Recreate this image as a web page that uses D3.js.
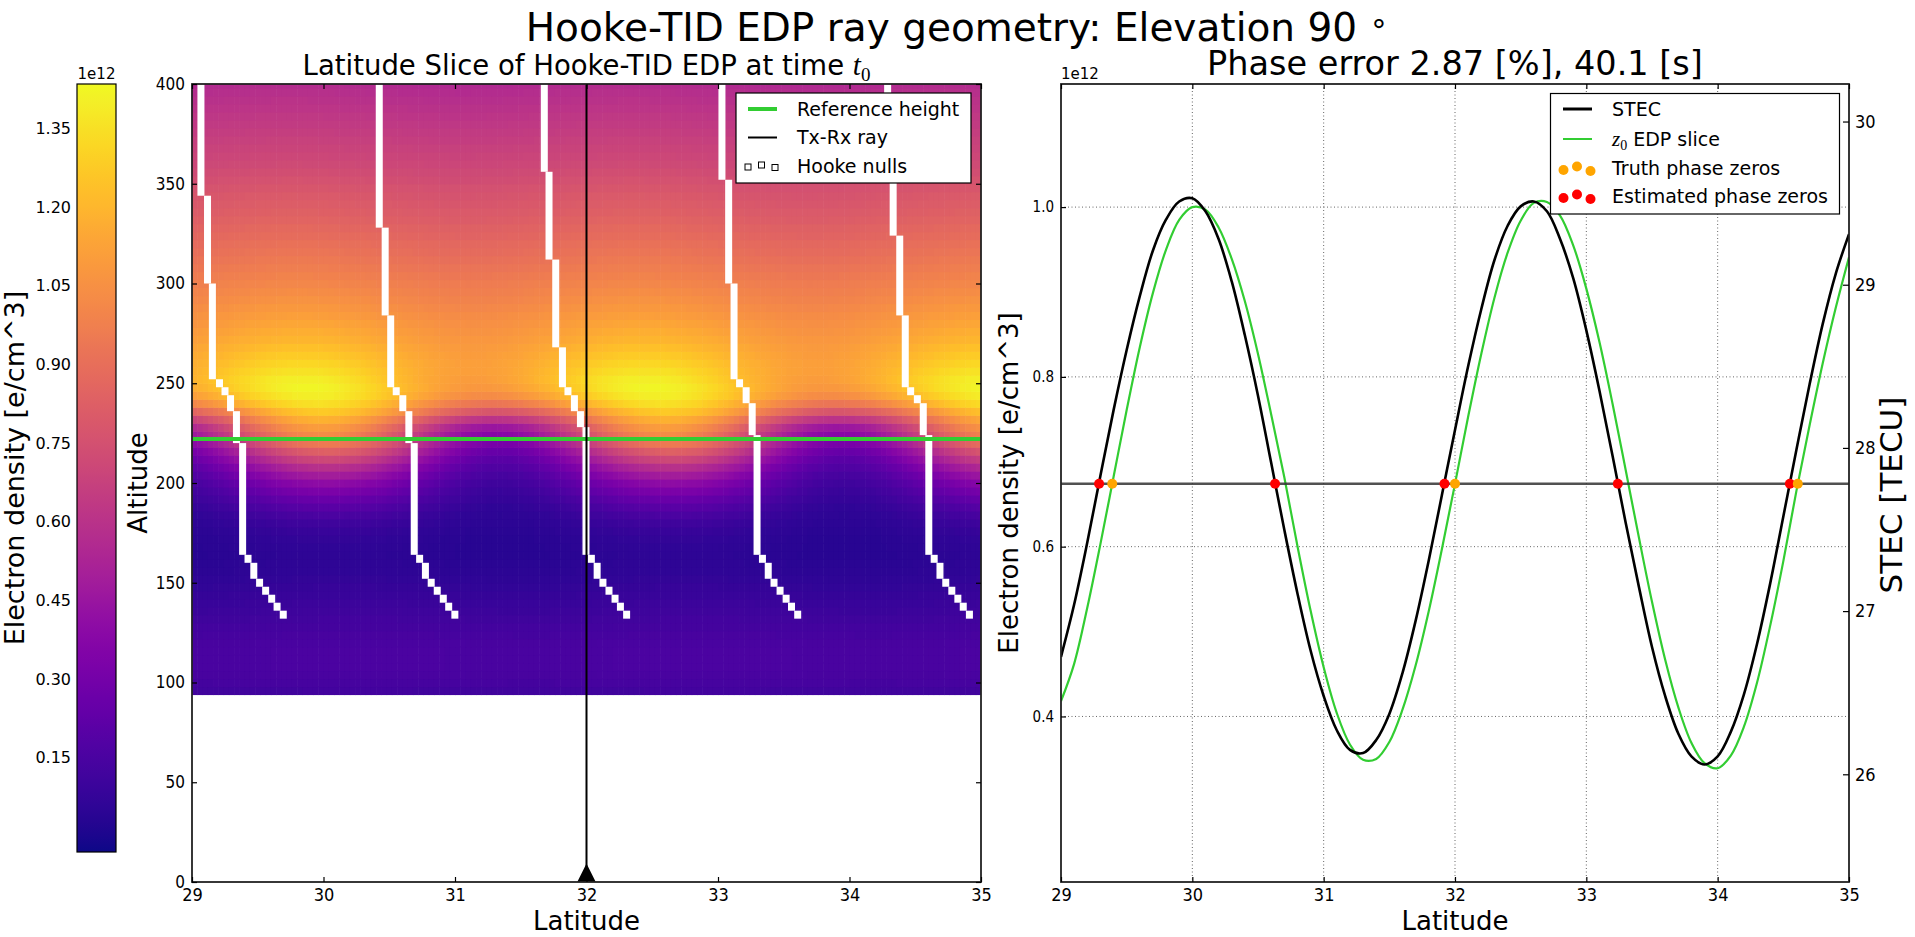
<!DOCTYPE html>
<html>
<head>
<meta charset="utf-8">
<title>Hooke-TID EDP ray geometry</title>
<script src="https://cdn.jsdelivr.net/npm/d3@7"></script>
<style>
  body { margin: 0; background: #fff; }
  svg text { font-family: "DejaVu Sans", sans-serif; fill: #000; }
  .tick text { font-family: "DejaVu Sans Condensed", "DejaVu Sans", sans-serif; font-stretch: condensed; }
  .math { font-family: "Liberation Serif", "DejaVu Serif", serif; font-style: italic; }
</style>
</head>
<body>
<svg id="figure" width="1915" height="937"></svg>
<script>
// ---------------- data ----------------
const latTicks = [29, 30, 31, 32, 33, 34, 35];
const altTicks = [0, 50, 100, 150, 200, 250, 300, 350, 400];
const cbTicks = [0.15, 0.30, 0.45, 0.60, 0.75, 0.90, 1.05, 1.20, 1.35];
const neTicks = [0.4, 0.6, 0.8, 1.0];
const tecTicks = [26, 27, 28, 29, 30];
const gridLat = [30, 31, 32, 33, 34];

const cbRange = [-0.03, 1.435];   // 1e12 e/cm^3
const neRange = [0.205, 1.145];   // 1e12 e/cm^3
const tecRange = [25.34, 30.23];  // TECU

const refHeightKm = 222;
const rayLat = 32.0;
const tidWavelengthDeg = 2.611;

// EDP slice, 4 km grid: crest / trough density (1e12) and crest latitude
const edpAltKm = [96, 100, 104, 108, 112, 116, 120, 124, 128, 132,
  136, 140, 144, 148, 152, 156, 160, 164, 168, 172,
  176, 180, 184, 188, 192, 196, 200, 204, 208, 212,
  216, 220, 224, 228, 232, 236, 240, 244, 248, 252,
  256, 260, 264, 268, 272, 276, 280, 284, 288, 292,
  296, 300, 304, 308, 312, 316, 320, 324, 328, 332,
  336, 340, 344, 348, 352, 356, 360, 364, 368, 372,
  376, 380, 384, 388, 392, 396, 400];
const edpCrest = [0.12, 0.135, 0.145, 0.15, 0.15, 0.15, 0.145, 0.14, 0.13, 0.12,
  0.11, 0.10, 0.09, 0.08, 0.07, 0.06, 0.055, 0.055, 0.06, 0.07,
  0.085, 0.11, 0.15, 0.20, 0.26, 0.33, 0.40, 0.49, 0.59, 0.71,
  0.83, 0.95, 1.03, 1.10, 1.18, 1.27, 1.35, 1.40, 1.42, 1.40,
  1.36, 1.32, 1.28, 1.24, 1.20, 1.17, 1.14, 1.11, 1.085, 1.06,
  1.035, 1.01, 0.99, 0.97, 0.95, 0.93, 0.91, 0.89, 0.87, 0.85,
  0.83, 0.815, 0.80, 0.78, 0.76, 0.74, 0.72, 0.705, 0.69, 0.675,
  0.66, 0.645, 0.63, 0.615, 0.60, 0.585, 0.57];
const edpTrough = [0.115, 0.13, 0.14, 0.145, 0.145, 0.145, 0.14, 0.13, 0.12, 0.11,
  0.095, 0.085, 0.075, 0.065, 0.055, 0.045, 0.04, 0.035, 0.035, 0.035,
  0.04, 0.045, 0.05, 0.06, 0.075, 0.09, 0.11, 0.135, 0.165, 0.20,
  0.25, 0.31, 0.37, 0.45, 0.60, 0.78, 0.93, 1.03, 1.08, 1.10,
  1.11, 1.11, 1.10, 1.09, 1.075, 1.06, 1.045, 1.03, 1.01, 0.99,
  0.975, 0.96, 0.94, 0.92, 0.90, 0.88, 0.865, 0.845, 0.83, 0.81,
  0.795, 0.78, 0.765, 0.75, 0.73, 0.715, 0.70, 0.685, 0.67, 0.655,
  0.64, 0.625, 0.61, 0.595, 0.58, 0.565, 0.55];
const edpCrestLat = [30.27, 30.27, 30.27, 30.27, 30.27, 30.27, 30.27, 30.27, 30.27, 30.25,
  30.22, 30.20, 30.17, 30.15, 30.12, 30.10, 30.08, 30.06, 30.04, 30.04,
  30.04, 30.04, 30.04, 30.04, 30.04, 30.04, 30.04, 30.04, 30.04, 30.04,
  30.04, 30.03, 29.99, 29.99, 29.99, 29.99, 29.95, 29.92, 29.88, 29.835,
  29.835, 29.835, 29.835, 29.835, 29.835, 29.835, 29.835, 29.81, 29.81, 29.81,
  29.81, 29.79, 29.79, 29.79, 29.79, 29.79, 29.79, 29.79, 29.77, 29.77,
  29.77, 29.77, 29.75, 29.75, 29.75, 29.75, 29.75, 29.75, 29.75, 29.75,
  29.75, 29.75, 29.75, 29.75, 29.75, 29.75, 29.75];

// Hooke nulls: [latitude, lowest km, highest km] runs, one list per chain
const nullsChain1 = [[29.068, 344, 400], [29.118, 300, 344], [29.155, 252, 300], [29.209, 248, 252],
  [29.251, 244, 248], [29.293, 236, 244], [29.338, 220, 236], [29.385, 164, 220], [29.426, 160, 164],
  [29.470, 152, 160], [29.514, 148, 152], [29.560, 144, 148], [29.606, 140, 144], [29.647, 136, 140],
  [29.694, 132, 136]];
const nullsChain2 = [[30.424, 328, 400], [30.469, 284, 328], [30.511, 248, 284], [30.553, 244, 248],
  [30.603, 236, 244], [30.649, 220, 236], [30.690, 164, 220], [30.731, 160, 164], [30.775, 152, 160],
  [30.819, 148, 152], [30.865, 144, 148], [30.911, 140, 144], [30.952, 136, 140], [30.999, 132, 136]];
const nullsChain3 = [[31.679, 356, 400], [31.715, 312, 356], [31.766, 268, 312], [31.817, 248, 268],
  [31.859, 244, 248], [31.908, 236, 244], [31.954, 228, 236], [31.996, 164, 228], [32.037, 160, 164],
  [32.081, 152, 160], [32.125, 148, 152], [32.171, 144, 148], [32.217, 140, 144], [32.258, 136, 140],
  [32.305, 132, 136]];
const nullsChain4 = [[33.030, 352, 400], [33.081, 300, 352], [33.122, 252, 300], [33.164, 248, 252],
  [33.214, 240, 248], [33.260, 224, 240], [33.297, 164, 224], [33.338, 160, 164], [33.382, 152, 160],
  [33.426, 148, 152], [33.472, 144, 148], [33.518, 140, 144], [33.559, 136, 140], [33.606, 132, 136]];
const nullsChain5 = [[34.290, 360, 400], [34.332, 324, 360], [34.382, 284, 324], [34.424, 248, 284],
  [34.465, 244, 248], [34.516, 240, 244], [34.561, 224, 240], [34.603, 164, 224], [34.644, 160, 164],
  [34.688, 152, 160], [34.732, 148, 152], [34.778, 144, 148], [34.824, 140, 144], [34.865, 136, 140],
  [34.912, 132, 136]];

// right panel curves
const curveLat = [29.0, 29.1, 29.2, 29.3, 29.4, 29.5, 29.6, 29.7, 29.8, 29.9,
  30.0, 30.1, 30.2, 30.3, 30.4, 30.5, 30.6, 30.7, 30.8, 30.9,
  31.0, 31.1, 31.2, 31.3, 31.4, 31.5, 31.6, 31.7, 31.8, 31.9,
  32.0, 32.1, 32.2, 32.3, 32.4, 32.5, 32.6, 32.7, 32.8, 32.9,
  33.0, 33.1, 33.2, 33.3, 33.4, 33.5, 33.6, 33.7, 33.8, 33.9,
  34.0, 34.1, 34.2, 34.3, 34.4, 34.5, 34.6, 34.7, 34.8, 34.9, 35.0];
const stecTecu = [26.72, 27.04, 27.42, 27.83, 28.23, 28.60, 28.93, 29.21, 29.40, 29.51,
  29.53, 29.45, 29.28, 29.02, 28.69, 28.32, 27.91, 27.50, 27.11, 26.76,
  26.48, 26.27, 26.15, 26.13, 26.21, 26.37, 26.62, 26.94, 27.31, 27.71,
  28.11, 28.50, 28.85, 29.15, 29.36, 29.48, 29.51, 29.45, 29.28, 29.04,
  28.72, 28.35, 27.95, 27.54, 27.15, 26.78, 26.48, 26.25, 26.11, 26.06,
  26.11, 26.26, 26.49, 26.80, 27.17, 27.58, 27.99, 28.39, 28.76, 29.07, 29.31];
const edpSlice = [0.418, 0.462, 0.528, 0.603, 0.682, 0.761, 0.835, 0.899, 0.950, 0.985,
  1.000, 0.997, 0.976, 0.939, 0.889, 0.827, 0.756, 0.682, 0.601, 0.525,
  0.458, 0.404, 0.367, 0.349, 0.350, 0.370, 0.408, 0.460, 0.524, 0.597,
  0.674, 0.753, 0.827, 0.893, 0.946, 0.984, 1.005, 1.006, 0.990, 0.955,
  0.904, 0.841, 0.768, 0.690, 0.611, 0.535, 0.467, 0.411, 0.369, 0.345,
  0.339, 0.354, 0.388, 0.440, 0.507, 0.583, 0.666, 0.743, 0.816, 0.882, 0.941];
const stecMean = 27.78;
const truthZeroLat = [29.39, 32.00, 34.61];
const estZeroLat = [29.29, 30.63, 31.92, 33.24, 34.55];
const phaseErrPct = 2.87;
const phaseErrSec = 40.1;

// ---------------- layout ----------------
const svg = d3.select("#figure");
const L = { x0: 192, x1: 981, y0: 84, y1: 882 };
const R = { x0: 1061, x1: 1849, y0: 84, y1: 882 };
const CB = { x0: 77, x1: 116, y0: 84, y1: 852 };

const xL = d3.scaleLinear().domain([29, 35]).range([L.x0, L.x1]);
const yL = d3.scaleLinear().domain([0, 400]).range([L.y1, L.y0]);
const yCb = d3.scaleLinear().domain(cbRange).range([CB.y1, CB.y0]);
const color = d3.scaleSequential(d3.interpolatePlasma).domain(cbRange);
const xR = d3.scaleLinear().domain([29, 35]).range([R.x0, R.x1]);
const yNe = d3.scaleLinear().domain(neRange).range([R.y1, R.y0]);
const yTec = d3.scaleLinear().domain(tecRange).range([R.y1, R.y0]);

const defs = svg.append("defs");
defs.append("clipPath").attr("id", "clipL").append("rect")
  .attr("x", L.x0).attr("y", L.y0).attr("width", L.x1 - L.x0).attr("height", L.y1 - L.y0);
defs.append("clipPath").attr("id", "clipR").append("rect")
  .attr("x", R.x0).attr("y", R.y0).attr("width", R.x1 - R.x0).attr("height", R.y1 - R.y0);

function styleAxis(g, size) {
  g.select(".domain").remove();
  g.selectAll(".tick line").attr("stroke", "#000").attr("stroke-width", 1.2);
  g.selectAll(".tick text").attr("font-size", size);
  return g;
}
const noLabel = () => "";

// ---------------- titles ----------------
const title = svg.append("text").attr("x", 957).attr("y", 41)
  .attr("text-anchor", "middle").attr("font-size", 39);
title.append("tspan").text("Hooke-TID EDP ray geometry: Elevation 90 ");
title.append("tspan").attr("font-size", 30).attr("dy", -8).text("\u2218");

const tL = svg.append("text").attr("x", (L.x0 + L.x1) / 2).attr("y", 75)
  .attr("text-anchor", "middle").attr("font-size", 27.5);
tL.append("tspan").text("Latitude Slice of Hooke-TID EDP at time ");
tL.append("tspan").attr("class", "math").attr("font-size", 29).text("t");
tL.append("tspan").attr("font-family", "Liberation Serif").attr("font-size", 19).attr("dy", 6).text("0");

svg.append("text").attr("x", (R.x0 + R.x1) / 2).attr("y", 75)
  .attr("text-anchor", "middle").attr("font-size", 33.5)
  .text(`Phase error ${phaseErrPct} [%], ${phaseErrSec} [s]`);

// ---------------- colorbar ----------------
const grad = defs.append("linearGradient").attr("id", "plasmaGrad")
  .attr("x1", 0).attr("y1", 1).attr("x2", 0).attr("y2", 0);
d3.range(0, 1.0001, 0.02).forEach(t => {
  grad.append("stop").attr("offset", t).attr("stop-color", d3.interpolatePlasma(t));
});
svg.append("rect").attr("x", CB.x0).attr("y", CB.y0)
  .attr("width", CB.x1 - CB.x0).attr("height", CB.y1 - CB.y0)
  .attr("fill", "url(#plasmaGrad)").attr("stroke", "#000").attr("stroke-width", 1.2);
const cbAxis = svg.append("g").attr("transform", `translate(${CB.x0},0)`)
  .call(d3.axisLeft(yCb).tickValues(cbTicks).tickFormat(d3.format(".2f"))
    .tickSizeInner(0).tickSizeOuter(0).tickPadding(6));
styleAxis(cbAxis, 16);
cbAxis.selectAll(".tick text").style("font-family", "DejaVu Sans").style("font-stretch", "normal");
svg.append("text").attr("x", (CB.x0 + CB.x1) / 2).attr("y", 79)
  .attr("text-anchor", "middle").attr("font-size", 15).text("1e12");
svg.append("text").attr("transform", `translate(24,${(CB.y0 + CB.y1) / 2}) rotate(-90)`)
  .attr("text-anchor", "middle").attr("font-size", 27).text("Electron density [e/cm^3]");

// ---------------- left panel: EDP slice ----------------
const cellLat = 0.04;
const nCols = Math.round((35 - 29) / cellLat);
const cells = [];
edpAltKm.forEach((alt, i) => {
  const mid = (edpCrest[i] + edpTrough[i]) / 2;
  const half = (edpCrest[i] - edpTrough[i]) / 2;
  for (let j = 0; j < nCols; j++) {
    const lat0 = 29 + j * cellLat;
    const phase = 2 * Math.PI * (lat0 + cellLat / 2 - edpCrestLat[i]) / tidWavelengthDeg;
    cells.push({ lat0, alt, v: mid + half * Math.cos(phase) });
  }
});
const gL = svg.append("g").attr("clip-path", "url(#clipL)");
gL.append("g").selectAll("rect").data(cells).join("rect")
  .attr("x", d => xL(d.lat0))
  .attr("y", d => yL(Math.min(d.alt + 2, 400)))
  .attr("width", xL(29 + cellLat) - xL(29) + 0.6)
  .attr("height", d => yL(d.alt - 2) - yL(Math.min(d.alt + 2, 400)) + 0.6)
  .attr("fill", d => color(d.v));

const nullRuns = [nullsChain1, nullsChain2, nullsChain3, nullsChain4, nullsChain5].flat();
gL.append("g").selectAll("rect").data(nullRuns).join("rect")
  .attr("x", d => xL(d[0]) - 3.5)
  .attr("y", d => yL(d[2]))
  .attr("width", 7)
  .attr("height", d => yL(d[1]) - yL(d[2]))
  .attr("fill", "#fff");

gL.append("line")
  .attr("x1", xL(29)).attr("x2", xL(35))
  .attr("y1", yL(refHeightKm)).attr("y2", yL(refHeightKm))
  .attr("stroke", "#32cd32").attr("stroke-width", 4);
gL.append("line")
  .attr("x1", xL(rayLat)).attr("x2", xL(rayLat))
  .attr("y1", yL(0)).attr("y2", yL(400))
  .attr("stroke", "#000").attr("stroke-width", 2);
const tri = 18.5;
gL.append("path")
  .attr("d", `M${xL(rayLat)},${yL(0) - tri} L${xL(rayLat) + tri},${yL(0) + tri} L${xL(rayLat) - tri},${yL(0) + tri} Z`)
  .attr("fill", "#000");

svg.append("rect").attr("x", L.x0).attr("y", L.y0)
  .attr("width", L.x1 - L.x0).attr("height", L.y1 - L.y0)
  .attr("fill", "none").attr("stroke", "#222").attr("stroke-width", 1.8);

styleAxis(svg.append("g").attr("transform", `translate(0,${L.y1})`)
  .call(d3.axisBottom(xL).tickValues(latTicks).tickFormat(d3.format("d"))
    .tickSizeInner(-5).tickSizeOuter(0).tickPadding(6)), 18);
styleAxis(svg.append("g").attr("transform", `translate(0,${L.y0})`)
  .call(d3.axisTop(xL).tickValues(latTicks).tickFormat(noLabel).tickSizeInner(-5).tickSizeOuter(0)), 18);
styleAxis(svg.append("g").attr("transform", `translate(${L.x0},0)`)
  .call(d3.axisLeft(yL).tickValues(altTicks).tickFormat(d3.format("d"))
    .tickSizeInner(-5).tickSizeOuter(0).tickPadding(7)), 17);
styleAxis(svg.append("g").attr("transform", `translate(${L.x1},0)`)
  .call(d3.axisRight(yL).tickValues(altTicks).tickFormat(noLabel).tickSizeInner(-5).tickSizeOuter(0)), 17);

svg.append("text").attr("x", (L.x0 + L.x1) / 2).attr("y", 930)
  .attr("text-anchor", "middle").attr("font-size", 26).text("Latitude");
svg.append("text").attr("transform", `translate(147,${(L.y0 + L.y1) / 2}) rotate(-90)`)
  .attr("text-anchor", "middle").attr("font-size", 26).text("Altitude");

// left legend
const legL = svg.append("g");
legL.append("rect").attr("x", 736).attr("y", 93).attr("width", 235).attr("height", 90)
  .attr("fill", "#fff").attr("stroke", "#000").attr("stroke-width", 1.2);
legL.append("line").attr("x1", 748).attr("x2", 777).attr("y1", 109).attr("y2", 109)
  .attr("stroke", "#32cd32").attr("stroke-width", 4);
legL.append("line").attr("x1", 748).attr("x2", 777).attr("y1", 137.5).attr("y2", 137.5)
  .attr("stroke", "#000").attr("stroke-width", 2);
legL.selectAll("rect.sq").data([[748, 167], [761.5, 165], [775, 167.5]]).join("rect")
  .attr("class", "sq").attr("x", d => d[0] - 3).attr("y", d => d[1] - 3)
  .attr("width", 6).attr("height", 6).attr("fill", "#fff").attr("stroke", "#000").attr("stroke-width", 1);
legL.selectAll("text").data([["Reference height", 109], ["Tx-Rx ray", 137.5], ["Hooke nulls", 166]]).join("text")
  .attr("x", 797).attr("y", d => d[1]).attr("dy", "0.36em").attr("font-size", 19).text(d => d[0]);

// ---------------- right panel: STEC vs EDP slice ----------------
const gR = svg.append("g");
gR.append("g").selectAll("line").data(gridLat).join("line")
  .attr("x1", d => xR(d)).attr("x2", d => xR(d)).attr("y1", R.y0).attr("y2", R.y1)
  .attr("stroke", "#666").attr("stroke-width", 1).attr("stroke-dasharray", "1,2.5");
gR.append("g").selectAll("line").data(neTicks).join("line")
  .attr("x1", R.x0).attr("x2", R.x1).attr("y1", d => yNe(d)).attr("y2", d => yNe(d))
  .attr("stroke", "#666").attr("stroke-width", 1).attr("stroke-dasharray", "1,2.5");

const plotR = gR.append("g").attr("clip-path", "url(#clipR)");
plotR.append("path").datum(curveLat.map((lat, i) => [lat, edpSlice[i]]))
  .attr("fill", "none").attr("stroke", "#32cd32").attr("stroke-width", 2.2)
  .attr("d", d3.line().x(d => xR(d[0])).y(d => yNe(d[1])).curve(d3.curveCatmullRom.alpha(0.5)));
plotR.append("path").datum(curveLat.map((lat, i) => [lat, stecTecu[i]]))
  .attr("fill", "none").attr("stroke", "#000").attr("stroke-width", 2.6)
  .attr("d", d3.line().x(d => xR(d[0])).y(d => yTec(d[1])).curve(d3.curveCatmullRom.alpha(0.5)));
plotR.append("line").attr("x1", R.x0).attr("x2", R.x1)
  .attr("y1", yTec(stecMean)).attr("y2", yTec(stecMean))
  .attr("stroke", "#333").attr("stroke-width", 2.6).attr("opacity", 0.85);
plotR.append("g").selectAll("circle").data(estZeroLat).join("circle")
  .attr("cx", d => xR(d)).attr("cy", yTec(stecMean)).attr("r", 5).attr("fill", "#ff0000");
plotR.append("g").selectAll("circle").data(truthZeroLat).join("circle")
  .attr("cx", d => xR(d)).attr("cy", yTec(stecMean)).attr("r", 5).attr("fill", "#ffa500");

svg.append("rect").attr("x", R.x0).attr("y", R.y0)
  .attr("width", R.x1 - R.x0).attr("height", R.y1 - R.y0)
  .attr("fill", "none").attr("stroke", "#222").attr("stroke-width", 1.8);

styleAxis(svg.append("g").attr("transform", `translate(0,${R.y1})`)
  .call(d3.axisBottom(xR).tickValues(latTicks).tickFormat(d3.format("d"))
    .tickSizeInner(-5).tickSizeOuter(0).tickPadding(6)), 18);
styleAxis(svg.append("g").attr("transform", `translate(0,${R.y0})`)
  .call(d3.axisTop(xR).tickValues(latTicks).tickFormat(noLabel).tickSizeInner(-5).tickSizeOuter(0)), 18);
styleAxis(svg.append("g").attr("transform", `translate(${R.x0},0)`)
  .call(d3.axisLeft(yNe).tickValues(neTicks).tickFormat(d3.format(".1f"))
    .tickSizeInner(-5).tickSizeOuter(0).tickPadding(7)), 15);
styleAxis(svg.append("g").attr("transform", `translate(${R.x1},0)`)
  .call(d3.axisRight(yTec).tickValues(tecTicks).tickFormat(d3.format("d"))
    .tickSizeInner(-6).tickSizeOuter(0).tickPadding(6)), 18);

svg.append("text").attr("x", R.x0).attr("y", 79).attr("font-size", 15).text("1e12");
svg.append("text").attr("x", (R.x0 + R.x1) / 2).attr("y", 930)
  .attr("text-anchor", "middle").attr("font-size", 26).text("Latitude");
svg.append("text").attr("transform", `translate(1018,${(R.y0 + R.y1) / 2}) rotate(-90)`)
  .attr("text-anchor", "middle").attr("font-size", 26).text("Electron density [e/cm^3]");
svg.append("text").attr("transform", `translate(1902,495) rotate(-90)`)
  .attr("text-anchor", "middle").attr("font-size", 31).text("STEC [TECU]");

// right legend
const legR = svg.append("g");
legR.append("rect").attr("x", 1550.5).attr("y", 93.5).attr("width", 289).attr("height", 120.5)
  .attr("fill", "#fff").attr("stroke", "#000").attr("stroke-width", 1.2);
legR.append("line").attr("x1", 1563).attr("x2", 1592).attr("y1", 109).attr("y2", 109)
  .attr("stroke", "#000").attr("stroke-width", 3);
legR.append("line").attr("x1", 1563).attr("x2", 1592).attr("y1", 139).attr("y2", 139)
  .attr("stroke", "#32cd32").attr("stroke-width", 2);
const dotDx = [1563.5, 1577, 1590.5], dotDy = [2, -1.5, 3];
[["#ffa500", 168], ["#ff0000", 196]].forEach(([c, y]) => {
  legR.append("g").selectAll("circle").data(dotDx).join("circle")
    .attr("cx", d => d).attr("cy", (d, i) => y + dotDy[i]).attr("r", 5).attr("fill", c);
});
legR.append("text").attr("x", 1612).attr("y", 109).attr("dy", "0.36em").attr("font-size", 19).text("STEC");
const zt = legR.append("text").attr("x", 1612).attr("y", 139).attr("dy", "0.36em").attr("font-size", 19);
zt.append("tspan").attr("class", "math").attr("font-size", 21).text("z");
zt.append("tspan").attr("font-family", "Liberation Serif").attr("font-size", 14).attr("dy", 4).text("0");
zt.append("tspan").attr("dy", -4).text(" EDP slice");
legR.append("text").attr("x", 1612).attr("y", 168).attr("dy", "0.36em").attr("font-size", 19).text("Truth phase zeros");
legR.append("text").attr("x", 1612).attr("y", 196).attr("dy", "0.36em").attr("font-size", 19).text("Estimated phase zeros");
</script>
</body>
</html>
